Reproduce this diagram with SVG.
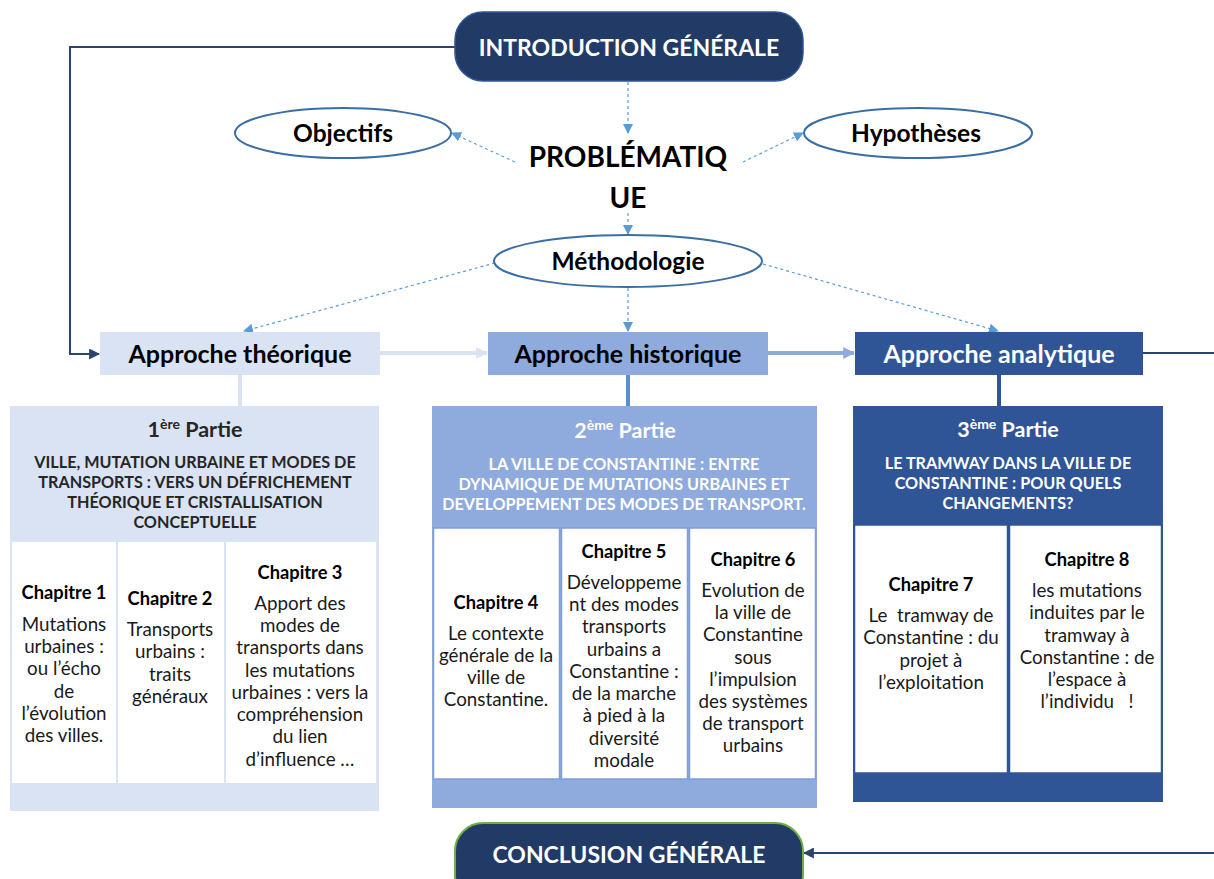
<svg xmlns="http://www.w3.org/2000/svg" width="1214" height="879" viewBox="0 0 1214 879">
  <style>
    text { font-family: Lato, "Open Sans", "Liberation Sans", sans-serif; text-anchor: middle; }
    .big { font-size: 23px; font-weight: bold; fill: #ffffff; }
    .oval { fill: #ffffff; stroke: #3a6ea5; stroke-width: 2; }
    .ovalTxt { font-size: 24.5px; font-weight: bold; fill: #000000; }
    .appr { font-size: 25px; font-weight: bold; }
    .part { font-size: 21.5px; font-weight: bold; }
    .sup { font-size: 14px; }
    .title { font-size: 16.2px; font-weight: bold; }
    .chap { font-size: 18.3px; font-weight: bold; fill: #000000; }
    .body { font-size: 18.8px; fill: #1a1a1a; }
    .dash { fill: none; stroke: #5b9bd5; stroke-width: 1.2; stroke-dasharray: 3 3; }
  </style>
  <defs>
    <marker id="aDash" viewBox="0 0 10 10" refX="9" refY="5" markerWidth="10" markerHeight="10" markerUnits="userSpaceOnUse" orient="auto">
      <path d="M0,0 L10,5 L0,10 z" fill="#5b9bd5"/>
    </marker>
    <marker id="aNavy" viewBox="0 0 10 10" refX="9" refY="5" markerWidth="11" markerHeight="11" markerUnits="userSpaceOnUse" orient="auto">
      <path d="M0,0 L10,5 L0,10 z" fill="#2c4470"/>
    </marker>
    <marker id="aLight" viewBox="0 0 10 10" refX="9" refY="5" markerWidth="12" markerHeight="12" markerUnits="userSpaceOnUse" orient="auto">
      <path d="M0,0 L10,5 L0,10 z" fill="#dae3f3"/>
    </marker>
    <marker id="aMid" viewBox="0 0 10 10" refX="9" refY="5" markerWidth="12" markerHeight="12" markerUnits="userSpaceOnUse" orient="auto">
      <path d="M0,0 L10,5 L0,10 z" fill="#8faadc"/>
    </marker>
  </defs>

  <!-- connectors -->
  <g id="connectors">
    <polyline points="455,47 70,47 70,354 99,354" fill="none" stroke="#2c4470" stroke-width="2" marker-end="url(#aNavy)"/>
    <line x1="628" y1="82" x2="628" y2="133" class="dash" marker-end="url(#aDash)"/>
    <line x1="515" y1="162" x2="452" y2="133" class="dash" marker-end="url(#aDash)"/>
    <line x1="743" y1="162" x2="803" y2="133" class="dash" marker-end="url(#aDash)"/>
    <line x1="628" y1="213" x2="628" y2="234" class="dash" marker-end="url(#aDash)"/>
    <line x1="495" y1="263" x2="244" y2="331" class="dash" marker-end="url(#aDash)"/>
    <line x1="628" y1="288" x2="628" y2="331" class="dash" marker-end="url(#aDash)"/>
    <line x1="763" y1="264" x2="998" y2="331" class="dash" marker-end="url(#aDash)"/>
    <line x1="380" y1="353" x2="487" y2="353" stroke="#dae3f3" stroke-width="4" marker-end="url(#aLight)"/>
    <line x1="768" y1="353" x2="854" y2="353" stroke="#8faadc" stroke-width="4" marker-end="url(#aMid)"/>
    <line x1="1143" y1="353" x2="1214" y2="353" stroke="#2c4470" stroke-width="2"/>
    <line x1="240" y1="375" x2="240" y2="406" stroke="#dae3f3" stroke-width="4"/>
    <line x1="628" y1="375" x2="628" y2="406" stroke="#5b8ed0" stroke-width="4"/>
    <line x1="999" y1="375" x2="999" y2="406" stroke="#2f5597" stroke-width="4"/>
    <line x1="1214" y1="853" x2="804" y2="853" stroke="#2c4470" stroke-width="2" marker-end="url(#aNavy)"/>
  </g>

  <!-- top -->
  <g id="intro">
    <rect x="455" y="12" width="348" height="69" rx="28" fill="#223a66" stroke="#2f5597" stroke-width="1.5"/>
    <text x="629" y="56" class="big">INTRODUCTION GÉNÉRALE</text>
  </g>
  <g id="objectifs">
    <ellipse cx="343" cy="133" rx="108" ry="25" class="oval"/>
    <text x="343" y="142" class="ovalTxt">Objectifs</text>
  </g>
  <g id="hypotheses">
    <ellipse cx="918" cy="133" rx="114" ry="25" class="oval"/>
    <text x="916" y="142" class="ovalTxt">Hypothèses</text>
  </g>
  <g id="problematique">
    <text x="628" y="167" style="font-size:28px;font-weight:bold;fill:#000">PROBLÉMATIQ</text>
    <text x="628" y="208" style="font-size:28px;font-weight:bold;fill:#000">UE</text>
  </g>
  <g id="methodologie">
    <ellipse cx="628" cy="261" rx="134" ry="26" class="oval"/>
    <text x="628" y="270" class="ovalTxt">Méthodologie</text>
  </g>

  <!-- approaches -->
  <g id="approche-theorique">
    <rect x="100" y="332" width="280" height="43" fill="#dae3f3"/>
    <text x="240" y="363" class="appr" fill="#000">Approche théorique</text>
  </g>
  <g id="approche-historique">
    <rect x="488" y="332" width="280" height="43" fill="#8faadc"/>
    <text x="628" y="363" class="appr" fill="#000">Approche historique</text>
  </g>
  <g id="approche-analytique">
    <rect x="855" y="332" width="288" height="43" fill="#2f5597"/>
    <text x="999" y="363" class="appr" fill="#fff">Approche analytique</text>
  </g>

  <!-- part 1 -->
  <g id="partie-1">
    <rect x="10" y="406" width="369" height="405" fill="#dae3f3"/>
    <rect x="12" y="542" width="104" height="241" fill="#fff"/>
    <rect x="118" y="542" width="106" height="241" fill="#fff"/>
    <rect x="226" y="542" width="150" height="241" fill="#fff"/>
    <text x="195" y="437" class="part" fill="#262626">1<tspan class="sup" dy="-8">ère</tspan><tspan dy="8"> Partie</tspan></text>
    <text x="195" y="468" class="title" fill="#262626">VILLE, MUTATION URBAINE ET MODES DE</text>
    <text x="195" y="488" class="title" fill="#262626">TRANSPORTS : VERS UN DÉFRICHEMENT</text>
    <text x="195" y="508" class="title" fill="#262626">THÉORIQUE ET CRISTALLISATION</text>
    <text x="195" y="528" class="title" fill="#262626">CONCEPTUELLE</text>
  </g>
  <g id="chapitre-1">
    <text x="64" y="599" class="chap">Chapitre 1</text>
    <text x="64" y="631" class="body">Mutations</text>
    <text x="64" y="653" class="body">urbaines :</text>
    <text x="64" y="675" class="body">ou l’écho</text>
    <text x="64" y="698" class="body">de</text>
    <text x="64" y="720" class="body">l’évolution</text>
    <text x="64" y="742" class="body">des villes.</text>
  </g>
  <g id="chapitre-2">
    <text x="170" y="605" class="chap">Chapitre 2</text>
    <text x="170" y="636" class="body">Transports</text>
    <text x="170" y="658" class="body">urbains :</text>
    <text x="170" y="681" class="body">traits</text>
    <text x="170" y="703" class="body">généraux</text>
  </g>
  <g id="chapitre-3">
    <text x="300" y="579" class="chap">Chapitre 3</text>
    <text x="300" y="610" class="body">Apport des</text>
    <text x="300" y="632" class="body">modes de</text>
    <text x="300" y="654" class="body">transports dans</text>
    <text x="300" y="677" class="body">les mutations</text>
    <text x="300" y="699" class="body">urbaines : vers la</text>
    <text x="300" y="721" class="body">compréhension</text>
    <text x="300" y="743" class="body">du lien</text>
    <text x="300" y="766" class="body">d’influence …</text>
  </g>

  <!-- part 2 -->
  <g id="partie-2">
    <rect x="432" y="406" width="385" height="402" fill="#8faadc"/>
    <rect x="433.5" y="528" width="126" height="251" fill="#fff" stroke="#7f9fd6" stroke-width="1.5"/>
    <rect x="561.5" y="528" width="126" height="251" fill="#fff" stroke="#7f9fd6" stroke-width="1.5"/>
    <rect x="689.5" y="528" width="126" height="251" fill="#fff" stroke="#7f9fd6" stroke-width="1.5"/>
    <text x="625" y="438" class="part" fill="#fff">2<tspan class="sup" dy="-8">ème</tspan><tspan dy="8"> Partie</tspan></text>
    <text x="624" y="470" class="title" fill="#fff">LA VILLE DE CONSTANTINE : ENTRE</text>
    <text x="624" y="490" class="title" fill="#fff">DYNAMIQUE DE MUTATIONS URBAINES ET</text>
    <text x="624" y="510" class="title" fill="#fff">DEVELOPPEMENT DES MODES DE TRANSPORT.</text>
  </g>
  <g id="chapitre-4">
    <text x="496" y="609" class="chap">Chapitre 4</text>
    <text x="496" y="640" class="body">Le contexte</text>
    <text x="496" y="662" class="body">générale de la</text>
    <text x="496" y="684" class="body">ville de</text>
    <text x="496" y="706" class="body">Constantine.</text>
  </g>
  <g id="chapitre-5">
    <text x="624" y="558" class="chap">Chapitre 5</text>
    <text x="624" y="589" class="body">Développeme</text>
    <text x="624" y="611" class="body">nt des modes</text>
    <text x="624" y="633" class="body">transports</text>
    <text x="624" y="656" class="body">urbains a</text>
    <text x="624" y="678" class="body">Constantine :</text>
    <text x="624" y="700" class="body">de la marche</text>
    <text x="624" y="722" class="body">à pied à la</text>
    <text x="624" y="745" class="body">diversité</text>
    <text x="624" y="767" class="body">modale</text>
  </g>
  <g id="chapitre-6">
    <text x="753" y="566" class="chap">Chapitre 6</text>
    <text x="753" y="597" class="body">Evolution de</text>
    <text x="753" y="619" class="body">la ville de</text>
    <text x="753" y="641" class="body">Constantine</text>
    <text x="753" y="664" class="body">sous</text>
    <text x="753" y="686" class="body">l’impulsion</text>
    <text x="753" y="708" class="body">des systèmes</text>
    <text x="753" y="730" class="body">de transport</text>
    <text x="753" y="752" class="body">urbains</text>
  </g>

  <!-- part 3 -->
  <g id="partie-3">
    <rect x="853" y="406" width="310" height="396" fill="#2f5597"/>
    <rect x="854.5" y="525" width="153" height="248" fill="#fff" stroke="#2f5597" stroke-width="1.5"/>
    <rect x="1009.5" y="525" width="152" height="248" fill="#fff" stroke="#2f5597" stroke-width="1.5"/>
    <text x="1008" y="437" class="part" fill="#fff">3<tspan class="sup" dy="-8">ème</tspan><tspan dy="8"> Partie</tspan></text>
    <text x="1008" y="469" class="title" fill="#fff">LE TRAMWAY DANS LA VILLE DE</text>
    <text x="1008" y="489" class="title" fill="#fff">CONSTANTINE : POUR QUELS</text>
    <text x="1008" y="509" class="title" fill="#fff">CHANGEMENTS?</text>
  </g>
  <g id="chapitre-7">
    <text x="931" y="591" class="chap">Chapitre 7</text>
    <text x="931" y="622" class="body" xml:space="preserve">Le  tramway de</text>
    <text x="931" y="644" class="body">Constantine : du</text>
    <text x="931" y="667" class="body">projet à</text>
    <text x="931" y="689" class="body">l’exploitation</text>
  </g>
  <g id="chapitre-8">
    <text x="1087" y="566" class="chap">Chapitre 8</text>
    <text x="1087" y="597" class="body">les mutations</text>
    <text x="1087" y="619" class="body">induites par le</text>
    <text x="1087" y="642" class="body">tramway à</text>
    <text x="1087" y="664" class="body">Constantine : de</text>
    <text x="1087" y="686" class="body">l’espace à</text>
    <text x="1087" y="708" class="body" xml:space="preserve">l’individu   !</text>
  </g>

  <!-- bottom -->
  <g id="conclusion">
    <rect x="455" y="823" width="348" height="80" rx="28" fill="#223a66" stroke="#70ad47" stroke-width="2"/>
    <text x="629" y="863" class="big">CONCLUSION GÉNÉRALE</text>
  </g>
</svg>
